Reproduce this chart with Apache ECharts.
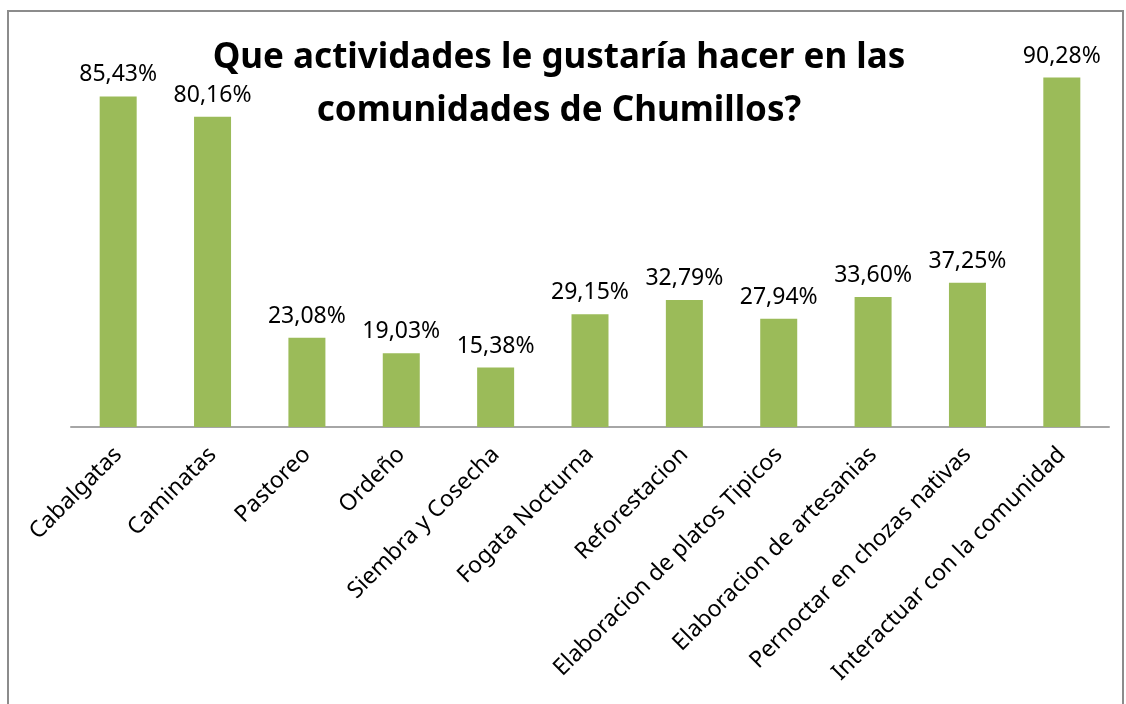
<!DOCTYPE html>
<html><head><meta charset="utf-8">
<script src="https://cdn.jsdelivr.net/npm/echarts@6/dist/echarts.min.js"></script>
<style>html,body{margin:0;padding:0;background:#fff}#c{width:1126px;height:704px}</style>
</head><body><div id="c"></div>
<script>
const titleText = "Que actividades le gustaría hacer en las\ncomunidades de Chumillos?";
const categories = ["Cabalgatas","Caminatas","Pastoreo","Ordeño","Siembra y Cosecha","Fogata Nocturna","Reforestacion","Elaboracion de platos Tipicos","Elaboracion de artesanias","Pernoctar en chozas nativas","Interactuar con la comunidad"];
const values = [85.43,80.16,23.08,19.03,15.38,29.15,32.79,27.94,33.60,37.25,90.28];
const FONT = "Noto Sans";
const chart = echarts.init(document.getElementById('c'));
chart.setOption({
  animation:false,
  backgroundColor:'#fff',
  title:{text:titleText,left:554,textAlign:'center',top:27,
    textStyle:{fontFamily:FONT,fontWeight:'bold',fontSize:35,lineHeight:53,color:'#000'}},
  graphic:[{type:'rect',shape:{x:8,y:11,width:1115,height:710},style:{fill:'none',stroke:'#8c8c8c',lineWidth:2},z:-1}],
  grid:{left:71,right:17,top:40,bottom:277},
  xAxis:{type:'category',data:categories,
    axisLine:{lineStyle:{color:'#a6a6a6',width:2}},axisTick:{show:false},
    axisLabel:{rotate:45,interval:0,margin:24,fontFamily:FONT,fontSize:23,color:'#000'}},
  yAxis:{type:'value',min:0,max:100,show:false,splitLine:{show:false}},
  series:[{type:'bar',data:values,barWidth:37,itemStyle:{color:'#9bbb59'},
    label:{show:true,position:'top',distance:10,fontFamily:FONT,fontSize:23,color:'#000',
      formatter:p=>p.value.toFixed(2).replace('.',',')+'%'}}]
});
</script></body></html>
